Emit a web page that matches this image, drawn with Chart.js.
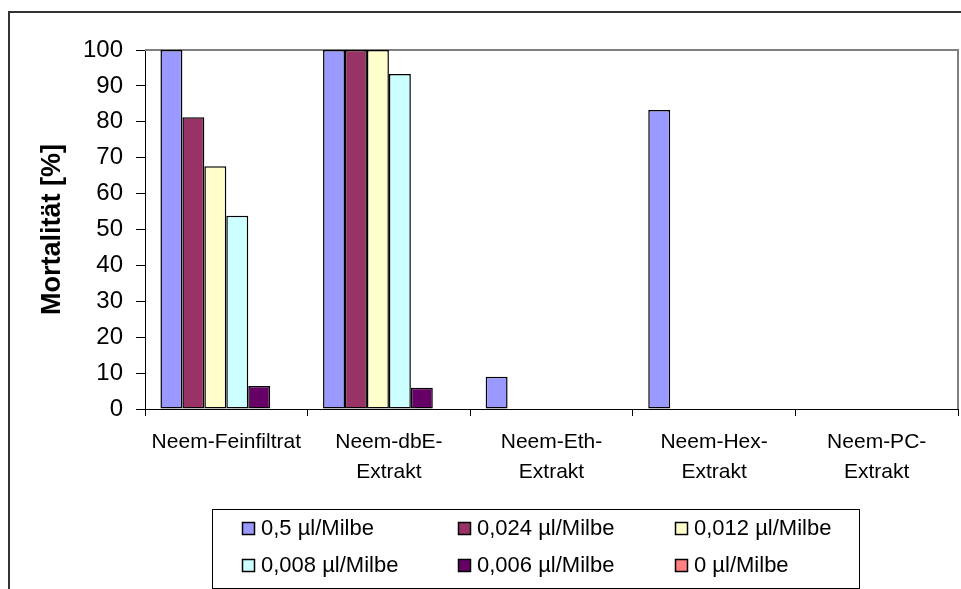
<!DOCTYPE html>
<html lang="de">
<head>
  <meta charset="UTF-8" />
  <title>Mortalität</title>
  <script src="https://cdn.jsdelivr.net/npm/chart.js"></script>
  <style>
    body {
      margin: 0;
      background: #fff;
      overflow: hidden;
    }
    #wrap {
      position: relative;
      width: 961px;
      height: 589px;
    }
  </style>
</head>
<body>
  <div id="wrap"><canvas id="mortChart"></canvas></div>

  <script>
    const categories = [
      'Neem-Feinfiltrat',
      ['Neem-dbE-', 'Extrakt'],
      ['Neem-Eth-', 'Extrakt'],
      ['Neem-Hex-', 'Extrakt'],
      ['Neem-PC-', 'Extrakt']
    ];
    const seriesNames = ['0,5 µl/Milbe', '0,024 µl/Milbe', '0,012 µl/Milbe',
                         '0,008 µl/Milbe', '0,006 µl/Milbe', '0 µl/Milbe'];
    const dose05 = [100, 100, 9, 83.3, 0];
    const dose0024 = [81.3, 100, 0, 0, 0];
    const dose0012 = [67.6, 100, 0, 0, 0];
    const dose0008 = [53.8, 93.3, 0, 0, 0];
    const dose0006 = [6.4, 5.9, 0, 0, 0];
    const dose0 = [0, 0, 0, 0, 0];
    const yTicks = [0, 10, 20, 30, 40, 50, 60, 70, 80, 90, 100];

    const colors = ['#9999FF', '#993366', '#FFFFCC', '#CCFFFF', '#660066', '#FF8080'];
    const FONT = "'Liberation Sans', Arial, sans-serif";

    const allSeries = [dose05, dose0024, dose0012, dose0008, dose0006, dose0];

    // Excel-like frame: outer border, grey plot area border, boxed legend
    const framePlugin = {
      id: 'frame',
      beforeDraw(chart) {
        const c = chart.ctx;
        c.save();
        c.fillStyle = '#fff';
        c.fillRect(0, 0, chart.width, chart.height);
        c.strokeStyle = '#333';
        c.lineWidth = 2;
        c.strokeRect(9, 12, chart.width + 20, chart.height + 20);
        c.restore();
      },
      beforeDatasetsDraw(chart) {
        const a = chart.chartArea;
        const c = chart.ctx;
        c.save();
        c.strokeStyle = '#808080';
        c.lineWidth = 2;
        c.beginPath();
        c.moveTo(a.left, a.top);
        c.lineTo(a.right, a.top);
        c.lineTo(a.right, a.bottom);
        c.stroke();
        c.restore();
      },
      afterDraw(chart) {
        const c = chart.ctx;
        c.save();
        c.strokeStyle = '#000';
        c.lineWidth = 1;
        c.strokeRect(212.5, 509.5, 647, 79);
        c.font = '22px ' + FONT;
        c.textBaseline = 'middle';
        const cols = [242, 458, 675];
        const rows = [528, 565];
        chart.data.datasets.forEach((ds, i) => {
          const x = cols[i % 3];
          const y = rows[Math.floor(i / 3)];
          c.fillStyle = ds.backgroundColor;
          c.fillRect(x, y - 6, 13, 13);
          c.lineWidth = 1.5;
          c.strokeRect(x + 0.5, y - 5.5, 12, 12);
          c.fillStyle = '#000';
          c.fillText(ds.label, x + 19, y + 1);
        });
        c.restore();
      }
    };

    const ctx = document.getElementById('mortChart').getContext('2d');
    new Chart(ctx, {
      type: 'bar',
      data: {
        labels: categories,
        datasets: seriesNames.map((name, i) => ({
          label: name,
          data: allSeries[i],
          backgroundColor: colors[i],
          borderColor: '#000',
          borderWidth: 1.5,
          borderSkipped: false,
          categoryPercentage: 0.81,
          barPercentage: 1
        }))
      },
      options: {
        responsive: true,
        maintainAspectRatio: false,
        animation: false,
        layout: { padding: { top: 50, right: 3, left: 0, bottom: 0 } },
        plugins: {
          legend: { display: false },
          tooltip: { enabled: false }
        },
        scales: {
          x: {
            afterFit(scale) { scale.height = 180; },
            grid: {
              display: true,
              drawOnChartArea: false,
              drawTicks: true,
              tickLength: 7,
              color: '#000',
              offset: true
            },
            border: { display: true, color: '#000', width: 1 },
            ticks: {
              color: '#000',
              font: { family: FONT, size: 21, lineHeight: 1.45 },
              padding: 11,
              maxRotation: 0,
              minRotation: 0,
              autoSkip: false
            }
          },
          y: {
            min: 0,
            max: 100,
            afterFit(scale) { scale.width = 145; },
            afterBuildTicks(scale) { scale.ticks = yTicks.map(v => ({ value: v })); },
            grid: {
              display: true,
              drawOnChartArea: false,
              drawTicks: true,
              tickLength: 9,
              color: '#000'
            },
            border: { display: true, color: '#000', width: 1 },
            ticks: {
              color: '#000',
              font: { family: FONT, size: 24 },
              padding: 13
            },
            title: {
              display: true,
              text: 'Mortalität [%]',
              color: '#000',
              font: { family: FONT, size: 27, weight: 'bold', lineHeight: 1.2 },
              padding: { top: 36, bottom: 0 }
            }
          }
        }
      },
      plugins: [framePlugin]
    });
  </script>
</body>
</html>
